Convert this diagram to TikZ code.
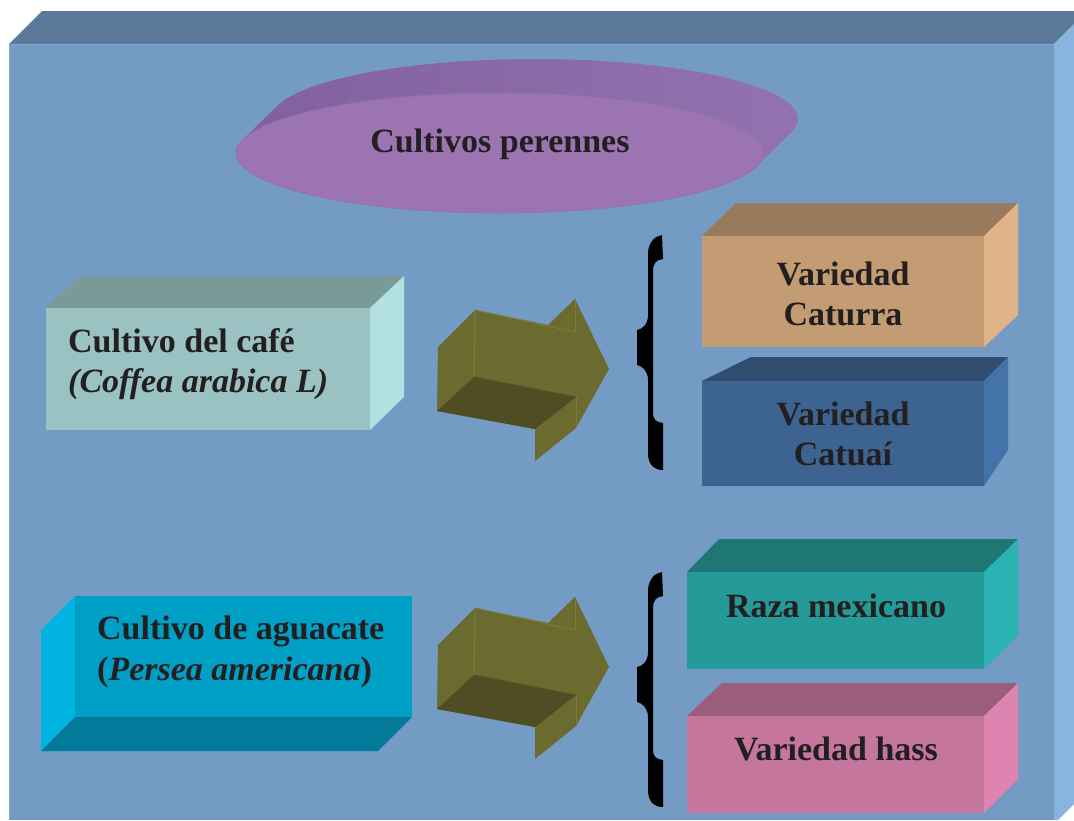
\documentclass[tikz,border=0pt]{standalone}
\usepackage{fontspec}
\setmainfont{Liberation Serif}
\definecolor{txtc}{HTML}{231F20}
\definecolor{frameFront}{HTML}{749BC4}
\definecolor{frameTop}{HTML}{5B7A99}
\definecolor{frameRight}{HTML}{88B4DE}
\definecolor{frameEdge}{HTML}{80A8D0}
\definecolor{ellFront}{HTML}{9C74B2}
\definecolor{ellRim}{HTML}{9570AE}
\definecolor{ellL}{HTML}{82609F}
\definecolor{ellM}{HTML}{745692}
\definecolor{ellR}{HTML}{9272AF}
\definecolor{cafFront}{HTML}{9BC2C3}
\definecolor{cafTop}{HTML}{7A9A97}
\definecolor{cafRight}{HTML}{B3E0E1}
\definecolor{aguFront}{HTML}{00A0C6}
\definecolor{aguLeft}{HTML}{00B3E0}
\definecolor{aguBottom}{HTML}{037A99}
\definecolor{olive}{HTML}{6B6A2F}
\definecolor{oliveDark}{HTML}{4E4D23}
\definecolor{oliveEdge}{HTML}{7C7B36}
\definecolor{tanFront}{HTML}{C39C73}
\definecolor{tanTop}{HTML}{997A5C}
\definecolor{tanRight}{HTML}{E0B488}
\definecolor{bluFront}{HTML}{3D6391}
\definecolor{bluTop}{HTML}{2E4D70}
\definecolor{bluRight}{HTML}{4373A9}
\definecolor{tealFront}{HTML}{249B99}
\definecolor{tealTop}{HTML}{1F7775}
\definecolor{tealRight}{HTML}{2BB3B3}
\definecolor{pinkFront}{HTML}{C4769D}
\definecolor{pinkTop}{HTML}{9A5E7C}
\definecolor{pinkRight}{HTML}{DD84B0}
\newcommand\olivearrowshape{%
  \fill[olive] (475,608) -- (548,623) -- (575,597) -- (609,667) -- (576,726) -- (535,759) -- (535,727) -- (437,709) -- (438,645) -- cycle;
  \fill[oliveDark] (474,675) -- (576,695) -- (535,727) -- (437,709) -- cycle;
  \draw[oliveEdge, line width=1pt] (475,608) -- (474,675);
  \draw[oliveEdge, line width=1pt] (575,597) -- (575,630);
  \draw[oliveEdge, line width=1pt] (576,695) -- (576,726);
  \draw[oliveEdge, line width=1pt] (475,608) -- (575,630);
  \draw[olive!80!black, line width=1pt] (474,675) -- (576,695);
}
\newcommand\bracketshape{%
  \fill[black] (662,235) -- (663,259) .. controls (656,260) and (653,263) .. (653,272)
    -- (653,412) .. controls (653,420) and (656,422) .. (663,423)
    -- (663,470) .. controls (655,470) and (649,466) .. (648,455)
    -- (648,380) .. controls (648,372) and (643,366) .. (637,365)
    -- (637,330) .. controls (643,329) and (648,324) .. (648,315)
    -- (648,252) .. controls (649,242) and (655,236) .. (662,235) -- cycle;
}
\begin{document}
\begin{tikzpicture}[x=1pt,y=-1pt,
  txt/.style={font=\fontsize{34}{40}\selectfont\bfseries, text=txtc, inner sep=0pt}]
\useasboundingbox (0,0) rectangle (1074,820);
\fill[white] (0,0) rectangle (1074,820);
% frame
\fill[frameFront] (9,44) rectangle (1054,820);
\fill[frameTop] (9,44) -- (42,11) -- (1074,11) -- (1074,24) -- (1054,44) -- cycle;
\fill[frameRight] (1054,44) -- (1074,24) -- (1074,804) -- (1058,820) -- (1054,820) -- cycle;
\draw[frameEdge, line width=1.2pt] (9.6,820) -- (9.6,44.6) -- (1054,44.6);
% ellipse (extruded)
\shade[left color=ellL, middle color=ellM, right color=ellR]
  plot[domain=193.2:373.2, samples=90] ({534.5+263.5*cos(\x)},{119+60*sin(\x)})
  -- plot[domain=13.2:193.2, samples=90] ({499.5+263.5*cos(\x)},{153+60*sin(\x)}) -- cycle;
\fill[ellFront, draw=ellRim, line width=0.8pt]
  plot[domain=0:360, samples=160] ({499.5+263.5*cos(\x)},{153+60*sin(\x)}) -- cycle;
\node[txt, anchor=base] (title) at (500,152) {Cultivos perennes};
% cafe box
\fill[cafTop] (46,308) -- (80,276) -- (404,276) -- (370,308) -- cycle;
\fill[cafRight] (370,308) -- (404,276) -- (404,397) -- (370,430) -- cycle;
\fill[cafFront] (46,308) rectangle (370,430);
\node[txt, anchor=base west] (cafe1) at (68,352) {Cultivo del café};
\node[txt, anchor=base west] (cafe2) at (68,392) {\itshape (Coffea arabica L)};
% aguacate box
\fill[aguLeft] (75,596) -- (41,630) -- (41,751) -- (75,717) -- cycle;
\fill[aguBottom] (75,717) -- (412,717) -- (378,751) -- (41,751) -- cycle;
\fill[aguFront] (75,596) rectangle (412,717);
\node[txt, anchor=base west] (agu1) at (97,639) {Cultivo de aguacate};
\node[txt, anchor=base west] (agu2) at (97,680) {(\textit{Persea americana})};
% arrows
\begin{scope}[shift={(0,-298)}]\olivearrowshape\end{scope}
\olivearrowshape
% braces
\bracketshape
\begin{scope}[shift={(0,337)}]\bracketshape\end{scope}
% Caturra
\fill[tanTop] (702,236) -- (736,203) -- (1018,203) -- (984,236) -- cycle;
\fill[tanRight] (984,236) -- (1018,203) -- (1018,315) -- (984,347) -- cycle;
\fill[tanFront] (702,236) rectangle (984,347);
\node[txt, anchor=base] (cat1) at (843,285) {Variedad};
\node[txt, anchor=base] (cat2) at (843,325) {Caturra};
% Catuai
\fill[bluTop] (702,381) -- (751,357) -- (1008,357) -- (984,381) -- cycle;
\fill[bluRight] (984,381) -- (1008,357) -- (1008,450) -- (984,486) -- cycle;
\fill[bluFront] (702,381) rectangle (984,486);
\node[txt, anchor=base] (ctu1) at (843,425) {Variedad};
\node[txt, anchor=base] (ctu2) at (843,465) {Catuaí};
% Raza mexicano
\fill[tealTop] (687,572) -- (719,539) -- (1018,539) -- (984,572) -- cycle;
\fill[tealRight] (984,572) -- (1018,539) -- (1018,635) -- (984,669) -- cycle;
\fill[tealFront] (687,572) rectangle (984,669);
\node[txt, anchor=base] (raza) at (836,617) {Raza mexicano};
% hass
\fill[pinkTop] (687,716) -- (722,683) -- (1018,683) -- (984,716) -- cycle;
\fill[pinkRight] (984,716) -- (1018,683) -- (1018,779) -- (984,813) -- cycle;
\fill[pinkFront] (687,716) rectangle (984,813);
\node[txt, anchor=base] (hass) at (836,760) {Variedad hass};
\end{tikzpicture}
\end{document}
